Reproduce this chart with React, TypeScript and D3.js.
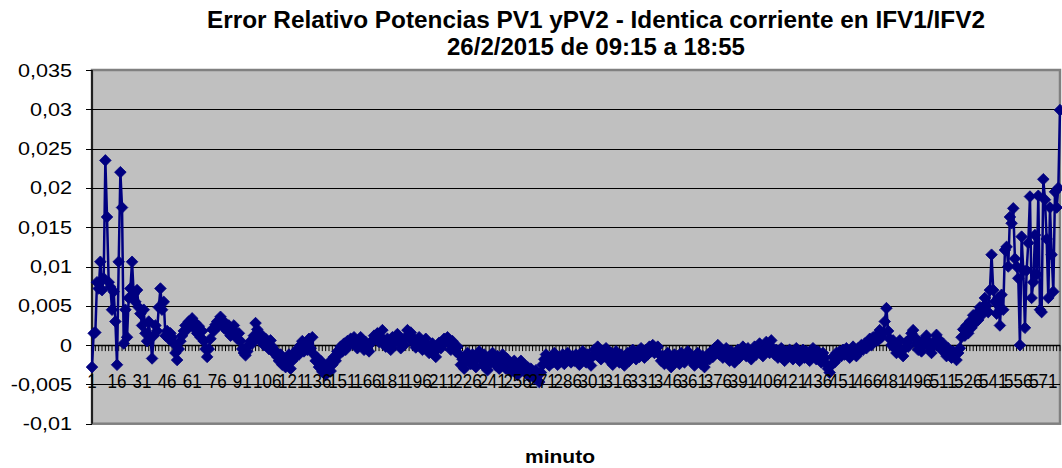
import React from 'react';
import * as d3 from 'd3';

const TITLE_1 = 'Error Relativo Potencias PV1 yPV2 - Identica corriente en IFV1/IFV2';
const TITLE_2 = '26/2/2015 de 09:15 a 18:55';
const X_TITLE = 'minuto';

const yTicks = [-0.01, -0.005, 0, 0.005, 0.01, 0.015, 0.02, 0.025, 0.03, 0.035];
const yTickLabels = ['-0,01', '-0,005', '0', '0,005', '0,01', '0,015', '0,02', '0,025', '0,03', '0,035'];
const xTickLabels = [1, 16, 31, 46, 61, 76, 91, 106, 121, 136, 151, 166, 181, 196, 211, 226, 241, 256, 271, 286, 301, 316, 331, 346, 361, 376, 391, 406, 421, 436, 451, 466, 481, 496, 511, 526, 541, 556, 571];

// relative error, minute 1 (09:15) .. minute 581 (18:55)
const errorValues = [
  -0.0028, 0.0015, 0.0016, 0.0080, 0.0072, 0.0106, 0.0070, 0.0085, 0.0235, 0.0163,
  0.0080, 0.0074, 0.0045, 0.0068, 0.0030, -0.0025, 0.0106, 0.0220, 0.0175, 0.0002,
  0.0045, 0.0010, 0.0060, 0.0072, 0.0106, 0.0065, 0.0055, 0.0070, 0.0048, 0.0040,
  0.0025, 0.0045, 0.0015, 0.0005, 0.0030, 0.0010, -0.0017, 0.0012, 0.0025, 0.0018,
  0.0048, 0.0072, 0.0045, 0.0055, 0.0012, 0.0018, 0.0008, 0.0015, 0.0010, 0.0002,
  -0.0010, -0.0019, -0.0005, 0.0005, 0.0012, 0.0018, 0.0025, 0.0020, 0.0030, 0.0028,
  0.0034, 0.0022, 0.0028, 0.0015, 0.0024, 0.0010, 0.0018, 0.0005, -0.0005, -0.0015,
  -0.0005, 0.0008, 0.0020, 0.0018, 0.0026, 0.0030, 0.0025, 0.0036, 0.0030, 0.0022,
  0.0028, 0.0018, 0.0025, 0.0012, 0.0020, 0.0025, 0.0016, 0.0008, 0.0015, 0.0005,
  -0.0005, -0.0010, -0.0013, -0.0008, 0.0000, 0.0005, 0.0002, 0.0012, 0.0028, 0.0020,
  0.0010, 0.0005, 0.0012, 0.0000, 0.0008, 0.0003, -0.0005, 0.0006, -0.0002, -0.0010,
  -0.0008, -0.0015, -0.0020, -0.0012, -0.0025, -0.0018, -0.0028, -0.0022, -0.0012, -0.0030,
  -0.0020, -0.0010, -0.0015, -0.0005, -0.0012, 0.0000, 0.0005, -0.0008, 0.0002, -0.0006,
  0.0008, -0.0004, 0.0010, -0.0012, -0.0020, -0.0016, -0.0028, -0.0020, -0.0034, -0.0025,
  -0.0038, -0.0030, -0.0022, -0.0033, -0.0025, -0.0015, -0.0020, -0.0008, -0.0012, -0.0002,
  -0.0008, 0.0002, -0.0006, 0.0005, 0.0000, 0.0008, 0.0003, 0.0010, 0.0004, -0.0004,
  0.0005, 0.0010, 0.0002, -0.0006, 0.0004, -0.0002, -0.0008, 0.0002, 0.0006, 0.0012,
  0.0008, 0.0015, 0.0004, 0.0010, 0.0019, 0.0006, -0.0002, 0.0008, 0.0004, -0.0006,
  0.0010, 0.0002, 0.0008, 0.0014, 0.0005, -0.0004, 0.0006, 0.0000, 0.0010, 0.0019,
  0.0012, 0.0016, 0.0004, 0.0008, -0.0003, 0.0005, 0.0010, 0.0002, -0.0006, 0.0004,
  0.0008, -0.0002, -0.0010, -0.0004, 0.0002, -0.0008, -0.0015, -0.0005, 0.0003, -0.0004,
  0.0002, 0.0008, 0.0004, 0.0010, 0.0002, -0.0006, 0.0005, 0.0000, -0.0008, -0.0002,
  -0.0012, -0.0025, -0.0018, -0.0030, -0.0020, -0.0010, -0.0016, -0.0024, -0.0012, -0.0020,
  -0.0028, -0.0015, -0.0008, -0.0018, -0.0025, -0.0012, -0.0020, -0.0032, -0.0015, -0.0022,
  -0.0010, -0.0018, -0.0026, -0.0014, -0.0030, -0.0020, -0.0012, -0.0022, -0.0030, -0.0018,
  -0.0024, -0.0034, -0.0026, -0.0020, -0.0030, -0.0038, -0.0028, -0.0020, -0.0032, -0.0025,
  -0.0035, -0.0028, -0.0040, -0.0030, -0.0036, -0.0042, -0.0032, -0.0038, -0.0047, -0.0035,
  -0.0025, -0.0018, -0.0012, -0.0020, -0.0026, -0.0015, -0.0022, -0.0010, -0.0018, -0.0025,
  -0.0015, -0.0020, -0.0012, -0.0024, -0.0018, -0.0010, -0.0016, -0.0022, -0.0014, -0.0020,
  -0.0012, -0.0018, -0.0025, -0.0015, -0.0008, -0.0016, -0.0022, -0.0012, -0.0018, -0.0026,
  -0.0014, -0.0006, -0.0012, -0.0002, -0.0010, -0.0018, -0.0008, -0.0014, -0.0004, -0.0012,
  -0.0020, -0.0010, -0.0025, -0.0016, -0.0008, -0.0015, -0.0022, -0.0012, -0.0018, -0.0026,
  -0.0016, -0.0010, -0.0020, -0.0014, -0.0006, -0.0012, -0.0018, -0.0008, -0.0015, -0.0004,
  -0.0010, -0.0016, -0.0006, -0.0012, -0.0002, -0.0008, 0.0000, -0.0010, -0.0004, -0.0002,
  -0.0012, -0.0020, -0.0014, -0.0024, -0.0018, -0.0010, -0.0022, -0.0028, -0.0016, -0.0012,
  -0.0020, -0.0014, -0.0024, -0.0010, -0.0016, -0.0022, -0.0012, -0.0008, -0.0018, -0.0014,
  -0.0020, -0.0026, -0.0016, -0.0010, -0.0018, -0.0024, -0.0014, -0.0028, -0.0020, -0.0012,
  -0.0018, -0.0008, -0.0015, -0.0004, -0.0010, 0.0000, -0.0012, -0.0006, -0.0016, -0.0010,
  -0.0004, -0.0012, -0.0020, -0.0008, -0.0014, -0.0022, -0.0012, -0.0006, -0.0016, -0.0010,
  -0.0002, -0.0008, -0.0014, -0.0004, -0.0010, -0.0018, -0.0008, -0.0002, -0.0012, -0.0006,
  0.0002, -0.0006, -0.0014, -0.0004, 0.0004, -0.0002, -0.0010, 0.0006, -0.0004, -0.0012,
  -0.0006, -0.0016, -0.0010, -0.0004, -0.0014, -0.0020, -0.0008, -0.0015, -0.0006, -0.0012,
  -0.0018, -0.0010, -0.0004, -0.0014, -0.0020, -0.0012, -0.0006, -0.0016, -0.0008, -0.0014,
  -0.0020, -0.0010, -0.0004, -0.0012, -0.0018, -0.0008, -0.0014, -0.0022, -0.0010, -0.0016,
  -0.0024, -0.0030, -0.0035, -0.0025, -0.0015, -0.0022, -0.0010, -0.0016, -0.0008, -0.0014,
  -0.0006, -0.0012, -0.0004, -0.0010, -0.0016, -0.0006, -0.0002, -0.0010, -0.0014, -0.0004,
  -0.0008, 0.0000, -0.0006, 0.0002, -0.0004, 0.0004, 0.0008, 0.0000, 0.0010, 0.0005,
  0.0012, 0.0006, 0.0019, 0.0010, 0.0015, 0.0030, 0.0047, 0.0018, 0.0008, 0.0000,
  0.0006, -0.0004, -0.0010, -0.0002, 0.0006, -0.0006, -0.0014, -0.0004, 0.0004, -0.0002,
  0.0008, 0.0015, 0.0019, 0.0010, 0.0002, -0.0006, 0.0004, -0.0008, 0.0000, 0.0008,
  0.0012, 0.0004, -0.0004, -0.0010, -0.0002, 0.0006, 0.0013, 0.0008, 0.0000, -0.0006,
  0.0002, -0.0008, -0.0014, -0.0004, -0.0010, -0.0016, -0.0008, -0.0012, -0.0019, -0.0010,
  -0.0004, 0.0010, 0.0020, 0.0012, 0.0025, 0.0015, 0.0030, 0.0022, 0.0038, 0.0028,
  0.0040, 0.0032, 0.0048, 0.0038, 0.0049, 0.0060, 0.0050, 0.0042, 0.0070, 0.0115,
  0.0070, 0.0055, 0.0040, 0.0060, 0.0025, 0.0064, 0.0045, 0.0121, 0.0125, 0.0100,
  0.0163, 0.0155, 0.0174, 0.0110, 0.0100, 0.0085, 0.0000, 0.0138, 0.0095, 0.0022,
  0.0095, 0.0130, 0.0189, 0.0060, 0.0080, 0.0140, 0.0090, 0.0190, 0.0045, 0.0042,
  0.0211, 0.0185, 0.0135, 0.0060, 0.0175, 0.0115, 0.0068, 0.0195, 0.0175, 0.0200, 0.0299,
];

const minutes = errorValues.map((_, i) => i + 1);

const W = 1062;
const H = 468;
const PLOT_L = 92;
const PLOT_R = 1060;
const PLOT_T = 70;
const PLOT_B = 423.7;
const NAVY = '#000080';

export default function App() {
  const x = d3.scaleLinear().domain([1, minutes.length]).range([PLOT_L, PLOT_R]);
  const y = d3.scaleLinear().domain([-0.01, 0.035]).range([PLOT_B, PLOT_T]);

  const line = d3
    .line<number>()
    .x((_, i) => x(minutes[i]))
    .y((d) => y(d));

  const diamond = 'M0,-5.8L5.8,0L0,5.8L-5.8,0Z';
  const xTickMarks = minutes.filter((m) => m % 2 === 1);
  const y0 = y(0);

  return (
    <svg
      width={W}
      height={H}
      style={{ position: 'absolute', left: 0, top: 0, background: '#fff' }}
      fontFamily="Arial, 'Liberation Sans', sans-serif"
    >
      <rect x={0} y={0} width={W} height={H} fill="#fff" />
      {/* titles */}
      <text x={596} y={28} textAnchor="middle" fontSize={23} fontWeight="bold" textLength={778} lengthAdjust="spacingAndGlyphs">
        {TITLE_1}
      </text>
      <text x={596} y={55} textAnchor="middle" fontSize={23} fontWeight="bold" textLength={298} lengthAdjust="spacingAndGlyphs">
        {TITLE_2}
      </text>

      {/* plot area */}
      <rect x={PLOT_L} y={PLOT_T} width={PLOT_R - PLOT_L} height={PLOT_B - PLOT_T} fill="#c0c0c0" stroke="#808080" strokeWidth={2.5} />

      {/* gridlines */}
      {yTicks
        .filter((t) => t !== 0 && t !== -0.01 && t !== 0.035)
        .map((t) => (
          <line key={'g' + t} x1={PLOT_L} x2={PLOT_R} y1={Math.round(y(t)) + 0.5} y2={Math.round(y(t)) + 0.5} stroke="#000" strokeWidth={1} />
        ))}

      {/* y axis */}
      <line x1={PLOT_L} x2={PLOT_L} y1={PLOT_T} y2={PLOT_B} stroke="#000" strokeWidth={1.5} />
      {yTicks.map((t, i) => (
        <g key={'yt' + t}>
          <line x1={PLOT_L - 6} x2={PLOT_L} y1={Math.round(y(t)) + 0.5} y2={Math.round(y(t)) + 0.5} stroke="#000" strokeWidth={1} />
          <text transform={`translate(72, ${y(t) + 6.5}) scale(1.2, 1)`} textAnchor="end" fontSize={18} fill="#000">
            {yTickLabels[i]}
          </text>
        </g>
      ))}

      {/* x axis at zero */}
      <line x1={PLOT_L} x2={PLOT_R} y1={Math.round(y0) + 0.5} y2={Math.round(y0) + 0.5} stroke="#000" strokeWidth={1.5} />
      {xTickMarks.map((m) => (
        <line key={'xt' + m} x1={x(m)} x2={x(m)} y1={y0} y2={y0 + 6} stroke="#000" strokeWidth={1} />
      ))}

      {/* series */}
      <path d={line(errorValues) || ''} fill="none" stroke={NAVY} strokeWidth={2.5} strokeLinejoin="round" />
      {errorValues.map((v, i) => (
        <path key={'m' + i} d={diamond} transform={`translate(${x(minutes[i])}, ${y(v)})`} fill={NAVY} stroke={NAVY} strokeWidth={0.8} />
      ))}

      {/* x tick labels */}
      {xTickLabels.map((m) => (
        <text key={'xl' + m} transform={`translate(${x(m)}, 388) scale(0.85, 1)`} textAnchor="middle" fontSize={20} fill="#000">
          {m}
        </text>
      ))}

      {/* x axis title */}
      <text x={560} y={463} textAnchor="middle" fontSize={19} fontWeight="bold" textLength={70} lengthAdjust="spacingAndGlyphs">
        {X_TITLE}
      </text>
    </svg>
  );
}
